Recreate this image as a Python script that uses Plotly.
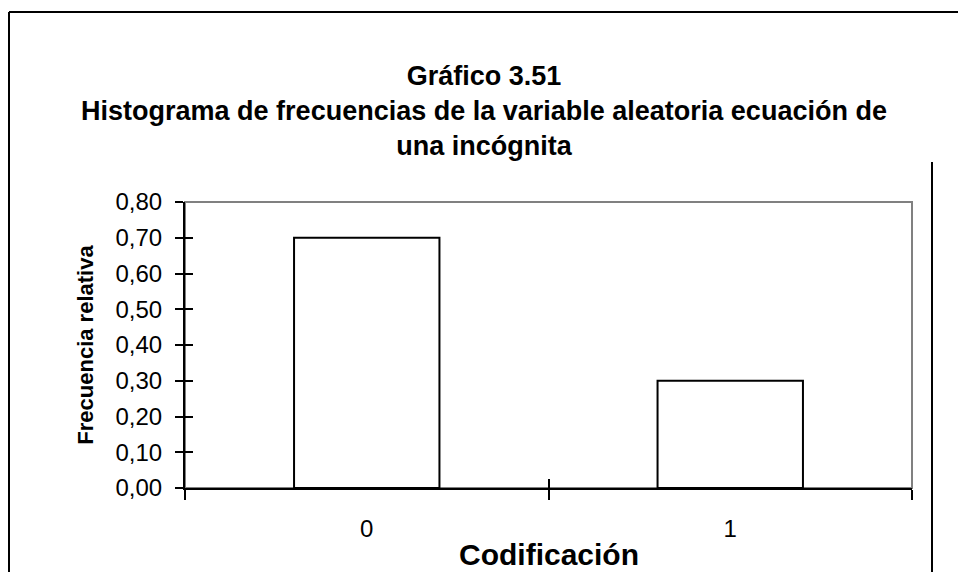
import plotly.graph_objects as go

categories = ["0", "1"]
rel_freq = [0.70, 0.30]
y_ticks = [0.0, 0.1, 0.2, 0.3, 0.4, 0.5, 0.6, 0.7, 0.8]

title_lines = ["Gráfico 3.51",
               "Histograma de frecuencias de la variable aleatoria ecuación de",
               "una incógnita"]
x_title = "Codificación"
y_title = "Frecuencia relativa"

OFF = 8  # page body margin offset
W, H = 966 - OFF, 572 - OFF
L = 185 - OFF
T = 202 - OFF
R = W - (912 - OFF)
B = H - (488 - OFF)
FONT = "Liberation Sans, Arial, sans-serif"

fig = go.Figure()
fig.add_trace(go.Bar(
    x=categories, y=rel_freq, width=0.4,
    marker=dict(color="white", line=dict(color="black", width=2)),
    xaxis="x", yaxis="y", showlegend=False,
))

fig.update_layout(
    width=W, height=H,
    margin=dict(l=L, r=R, t=T, b=B, autoexpand=False),
    paper_bgcolor="white", plot_bgcolor="white",
    separators=",.",
    font=dict(family=FONT, color="black"),
    title=dict(
        text="<br>".join(f"<b>{t}</b>" for t in title_lines),
        x=(484 - OFF) / W, xanchor="center", xref="container",
        y=1 - (86 - OFF - 1) / H, yanchor="top", yref="container",
        font=dict(size=27, family=FONT, color="black"),
    ),
    xaxis=dict(
        type="category", range=[-0.5, 1.5],
        tickson="boundaries", ticks="outside", ticklen=10, tickwidth=2, tickcolor="black",
        ticklabelstandoff=18,
        showline=True, linecolor="black", linewidth=2,
        showgrid=False, zeroline=False,
        tickfont=dict(size=24, family=FONT, color="black"),
    ),
    xaxis2=dict(
        type="category", range=[-0.5, 1.5], overlaying="x", matches="x",
        tickson="boundaries", ticks="inside", ticklen=9, tickwidth=2, tickcolor="black",
        showticklabels=False, showline=False, showgrid=False, zeroline=False,
        side="bottom", anchor="y",
    ),
    yaxis=dict(
        range=[0, 0.8], tickvals=y_ticks, tickformat=".2f",
        ticks="outside", ticklen=8, tickwidth=2, tickcolor="black",
        ticklabelstandoff=8,
        showline=True, linecolor="black", linewidth=2,
        showgrid=False, zeroline=False,
        tickfont=dict(size=24, family=FONT, color="black"),
        title=dict(text=f"<b>{y_title}</b>", font=dict(size=22, family=FONT, color="black"), standoff=16),
    ),
    yaxis2=dict(
        range=[0, 0.8], overlaying="y", tickvals=y_ticks,
        ticks="inside", ticklen=8, tickwidth=2, tickcolor="black",
        showticklabels=False, showline=False, showgrid=False, zeroline=False,
        side="left", anchor="x",
    ),
    annotations=[dict(
        text=f"<b>{x_title}</b>", xref="paper", yref="paper", x=0.5, y=0,
        xanchor="center", yanchor="top", yshift=-48, showarrow=False,
        font=dict(size=30, family=FONT, color="black"),
    )],
)

# invisible trace to activate the secondary (tick-crossing) axes
fig.add_trace(go.Bar(x=categories, y=[None, None], xaxis="x2", yaxis="y2",
                     showlegend=False, hoverinfo="skip"))

# gray plot-area frame (top/right visible)
fig.add_shape(type="rect", xref="paper", yref="paper", x0=0, x1=1, y0=0, y1=1,
              line=dict(color="#808080", width=2), layer="below")

# outer chart-area border: top and left edges
fig.add_shape(type="line", xref="paper", yref="paper",
              xsizemode="pixel", ysizemode="pixel", xanchor=0, yanchor=1,
              x0=9 - 185, x1=W + 20, y0=202 - 12, y1=202 - 12,
              line=dict(color="black", width=2))
fig.add_shape(type="line", xref="paper", yref="paper",
              xsizemode="pixel", ysizemode="pixel", xanchor=0, yanchor=1,
              x0=9 - 185, x1=9 - 185, y0=202 - 12, y1=-H,
              line=dict(color="black", width=2))
# vertical line at right
fig.add_shape(type="line", xref="paper", yref="paper",
              xsizemode="pixel", ysizemode="pixel", xanchor=0, yanchor=1,
              x0=932 - 185, x1=932 - 185, y0=202 - 162, y1=-H,
              line=dict(color="black", width=2))

fig.write_html("out.html")
